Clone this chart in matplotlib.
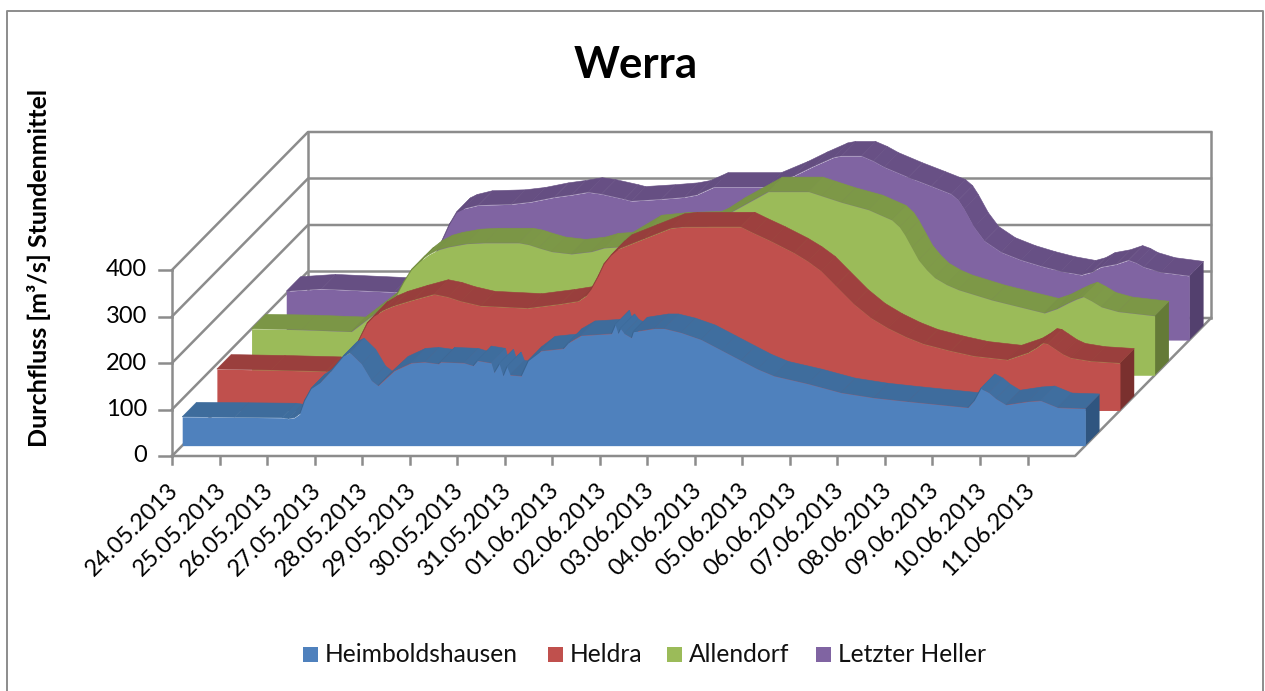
import numpy as np
import matplotlib
matplotlib.use('Agg')
import matplotlib.pyplot as plt
from matplotlib.colors import to_rgb
from matplotlib.lines import Line2D
from matplotlib.patches import Rectangle

plt.rcParams['font.family'] = ['Lato', 'DejaVu Sans']

dates = ['24.05.2013', '25.05.2013', '26.05.2013', '27.05.2013', '28.05.2013',
         '29.05.2013', '30.05.2013', '31.05.2013', '01.06.2013', '02.06.2013',
         '03.06.2013', '04.06.2013', '05.06.2013', '06.06.2013', '07.06.2013',
         '08.06.2013', '09.06.2013', '10.06.2013', '11.06.2013']
y_ticks = [0, 100, 200, 300, 400]
names = ['Heimboldshausen', 'Heldra', 'Allendorf', 'Letzter Heller']

# time in days since 24.05.2013, flow in m3/s
heim_t = [0, 1.1, 2.1, 2.23, 2.36, 2.47, 2.57, 2.71, 2.9, 3.13, 3.39, 3.53, 3.77, 3.98, 4.12, 4.46,
          4.82, 5.1, 5.39, 5.44, 5.93, 6.12, 6.21, 6.5, 6.56, 6.67, 6.75, 6.83, 6.9, 7.13,
          7.28, 7.55, 8.02, 8.12, 8.39, 9.03, 9.11, 9.17, 9.22, 9.3, 9.45, 9.49, 9.93, 10.14,
          10.5, 10.92, 11.35, 11.76, 12.1, 12.45, 13.17, 13.86, 14.55, 15.27, 16.53, 16.66,
          16.8, 16.97, 17.12, 17.33, 17.79, 18.06, 18.42, 19.0]
heim_v = [62, 61, 60, 58, 60, 68, 97, 123, 136, 161, 193, 200, 176, 140, 129, 161,
          178, 180, 176, 180, 178, 172, 183, 178, 157, 176, 150, 170, 152, 150,
          183, 204, 209, 221, 237, 241, 260, 241, 252, 241, 232, 245, 252, 252,
          243, 228, 205, 183, 165, 150, 133, 114, 103, 95, 82, 97,
          123, 114, 101, 88, 95, 97, 82, 80]

held_t = [0, 1.14, 2.3, 2.54, 2.82, 2.97, 3.16, 3.3, 3.51, 3.72, 4.14, 4.57, 4.86, 5.13, 5.55, 6.54,
          7.23, 7.6, 7.76, 7.87, 8.02, 8.14, 8.29, 8.44, 8.98, 9.55, 9.82, 11.02, 11.28, 11.66,
          12.14, 12.43, 12.71, 13.02, 13.4, 13.76, 14.12, 14.5, 14.87, 15.44, 15.93, 16.63,
          17.06, 17.23, 17.38, 17.48, 17.61, 17.8, 17.97, 18.39, 19.0]
held_v = [89, 87, 84, 81, 124, 149, 188, 203, 216, 225, 238, 250, 244, 235, 225, 220,
          229, 235, 246, 261, 289, 315, 334, 347, 369, 392, 395, 395, 382, 364,
          339, 321, 300, 268, 229, 199, 177, 158, 143, 128, 117, 109,
          124, 134, 145, 143, 134, 121, 113, 106, 102]

alle_t = [0, 1.05, 2.1, 2.84, 3.05, 3.2, 3.36, 3.53, 3.72, 3.93, 4.14, 4.52, 4.9, 5.62, 5.83, 6.04,
          6.31, 6.73, 7.15, 7.42, 7.72, 8.33, 8.9, 9.59, 9.74, 10.09, 10.87, 11.72, 11.99, 12.41,
          12.98, 13.47, 13.63, 13.74, 13.89, 14.03, 14.2, 14.37, 14.62, 14.87, 15.57, 16.68,
          16.94, 17.19, 17.36, 17.5, 17.67, 17.88, 18.23, 19.0]
alle_v = [100, 98, 94, 152, 173, 201, 227, 244, 259, 270, 276, 283, 285, 285, 281, 274,
          266, 261, 266, 274, 276, 313, 319, 321, 328, 351, 395, 395, 386, 372,
          356, 334, 319, 302, 274, 248, 227, 210, 195, 184, 162, 134,
          143, 156, 164, 169, 160, 147, 137, 128]

hell_t = [0, 0.74, 2.27, 2.52, 2.94, 3.11, 3.26, 3.43, 3.58, 3.72, 4.04, 4.73, 5.15, 5.64, 6.0, 6.35,
          6.63, 7.11, 7.26, 7.89, 8.37, 8.63, 9.0, 10.12, 10.68, 11.1, 11.52, 11.68, 12.1, 12.35,
          12.58, 13.09, 13.57, 13.99, 14.14, 14.26, 14.47, 14.69, 15.04, 15.46, 15.88, 16.3,
          16.73, 16.94, 17.14, 17.46, 17.72, 17.88, 18.04, 18.4, 19.0]
hell_v = [105, 110, 103, 103, 142, 178, 211, 249, 275, 282, 290, 292, 297, 307, 312, 318,
          314, 303, 299, 303, 307, 312, 329, 329, 353, 374, 393, 396, 396, 385,
          372, 350, 331, 314, 301, 282, 243, 213, 189, 172, 159, 148,
          140, 146, 157, 163, 172, 166, 157, 146, 138]

times = [heim_t, held_t, alle_t, hell_t]
flows = [heim_v, held_v, alle_v, hell_v]
front_cols = ['#4f81bd', '#c0504d', '#9bbb59', '#8064a2']
top_cols = ['#3e6c9c', '#9a3f3d', '#7b9646', '#664f83']
side_cols = ['#2f5580', '#7a302e', '#647a37', '#53406e']
grid_col = '#8c8c8c'

# the 3d look: depth d in 0..1 moves a point right and up
DEPTH_X = 136 / 47.53
DEPTH_Y = 138 / 0.465
D0, D_STEP, D_BAND = 0.075, 0.255, 0.105


def shift(t, v, d):
    return np.asarray(t, float) + DEPTH_X * d, np.asarray(v, float) + DEPTH_Y * d


W, H = 1265, 691
fig = plt.figure(figsize=(W / 100, H / 100), dpi=100)
ax = fig.add_axes([0, 0, 1, 1])
ax.set_xlim(-172 / 47.53, (W - 172) / 47.53)
ax.set_ylim(-(H - 456) / 0.465, 456 / 0.465)
ax.axis('off')

# walls and floor
lw = 1.8
for val in y_ticks:
    x, y = shift([0, 0, 19], [val, val, val], 0)
    x2, y2 = shift([0, 19], [val, val], 1)
    ax.plot([x[0], x2[0], x2[1]], [y[0], y2[0], y2[1]], color=grid_col, lw=lw, zorder=1)
    ax.plot([-13 / 47.53, 0], [val, val], color=grid_col, lw=lw, zorder=1)
    ax.text(-25 / 47.53, val, str(val), ha='right', va='center', fontsize=17, color='black')
ax.plot([0, 0], [0, 400], color=grid_col, lw=lw, zorder=1)
for d, tt in [(1, 0), (1, 19)]:
    x, y = shift([tt, tt], [0, 400], d)
    ax.plot(x, y, color=grid_col, lw=lw, zorder=1)
x2, y2 = shift([19], [0], 1)
ax.plot([0, 19, x2[0]], [0, 0, y2[0]], color=grid_col, lw=lw, zorder=1)
for i, lab in enumerate(dates):
    ax.plot([i, i], [0, -17], color=grid_col, lw=lw, zorder=1)
    ax.text(i - 0.09, -50, lab, rotation=45, ha='right', va='top', rotation_mode='anchor',
            fontsize=17, color='black')

# back series first
for i in [3, 2, 1, 0]:
    t, v = np.array(times[i], float), np.array(flows[i], float)
    d1 = D0 + i * D_STEP
    d2 = d1 + D_BAND
    z = 10 + (3 - i)
    # right end
    xa, ya = shift([19, 19], [0, v[-1]], d1)
    xb, yb = shift([19, 19], [v[-1], 0], d2)
    ax.fill(np.r_[xa, xb], np.r_[ya, yb], color=side_cols[i], lw=0, zorder=z)
    # top face, one facet per segment, rising parts a little darker
    base = np.array(to_rgb(top_cols[i]))
    for k in range(len(t) - 1):
        slope = (v[k + 1] - v[k]) / (t[k + 1] - t[k])
        col = np.clip(base * (1 - np.clip(slope / 2500, -0.03, 0.08)), 0, 1)
        xa, ya = shift(t[k:k + 2], v[k:k + 2], d1)
        xb, yb = shift(t[k:k + 2][::-1], v[k:k + 2][::-1], d2)
        ax.fill(np.r_[xa, xb], np.r_[ya, yb], facecolor=col, edgecolor=col, lw=0.4, zorder=z)
    # front face
    xa, ya = shift(t, v, d1)
    ax.fill_between(xa, DEPTH_Y * d1, ya, color=front_cols[i], lw=0, zorder=z + 0.5)

fig.text(636 / W, 1 - 65 / H, 'Werra', ha='center', va='center', fontsize=31.5, fontweight='bold')
fig.text(39 / W, 1 - 268 / H, 'Durchfluss [m³/s] Stundenmittel', rotation=90, ha='center',
         va='center', fontsize=18, fontweight='bold')

# legend
leg_x = [303, 548, 667, 816]
for lx, nm, col in zip(leg_x, names, front_cols):
    fig.add_artist(Rectangle((lx / W, 1 - 662 / H), 15 / W, 15 / H, transform=fig.transFigure,
                             color=col, lw=0))
    fig.text((lx + 22) / W, 1 - 655 / H, nm, ha='left', va='center', fontsize=17.7, color='#111111')

# chart border
bx = [7 / W, 7 / W, 1263 / W, 1263 / W]
by = [0, 1 - 11 / H, 1 - 11 / H, 0]
fig.add_artist(Line2D(bx, by, transform=fig.transFigure, color='#8c8c8c', lw=1.4))

fig.savefig('out.png', dpi=100)
